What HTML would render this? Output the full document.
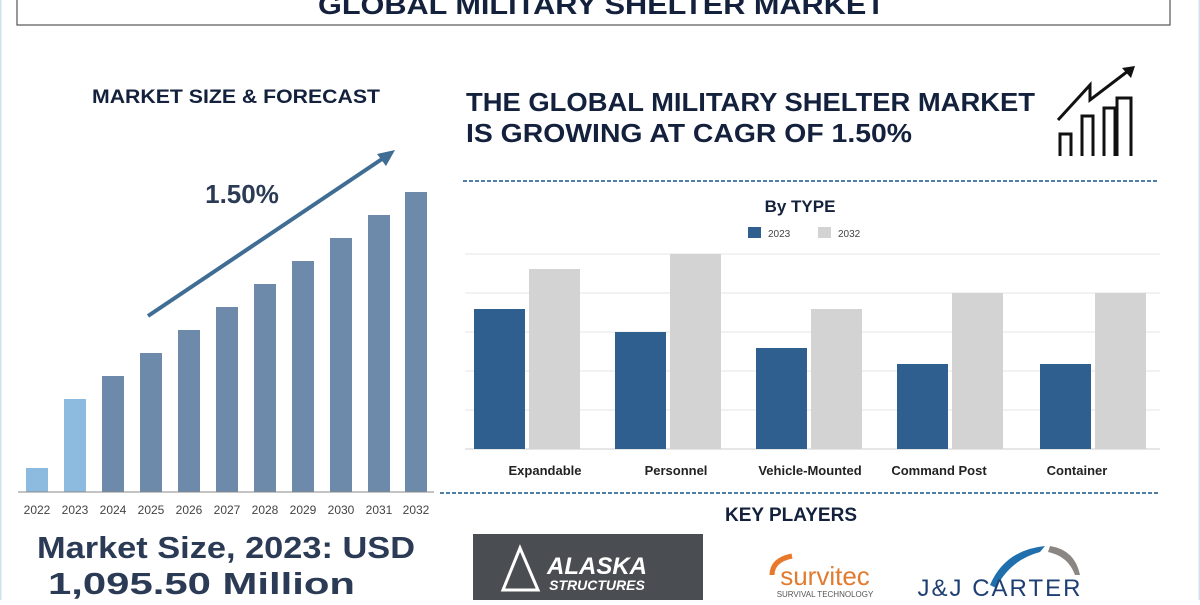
<!DOCTYPE html>
<html><head><meta charset="utf-8"><style>
body{margin:0;width:1200px;height:600px;overflow:hidden;background:#fff;font-family:"Liberation Sans",sans-serif;}
</style></head><body>
<svg width="1200" height="600" xmlns="http://www.w3.org/2000/svg" font-family="Liberation Sans, sans-serif">
<rect x="0.5" y="-5" width="1199" height="610" fill="#fff" stroke="#cfe0ef" stroke-width="2"/>
<rect x="17" y="-5" width="1153" height="30" fill="#fff" stroke="#555" stroke-width="1.2"/>
<text x="318" y="14" font-size="27" font-weight="bold" fill="#14213d" textLength="567" lengthAdjust="spacingAndGlyphs">GLOBAL MILITARY SHELTER MARKET</text>
<text x="92" y="103" font-size="19" font-weight="bold" fill="#14213d" textLength="288" lengthAdjust="spacingAndGlyphs">MARKET SIZE &amp; FORECAST</text>
<text x="242" y="203" text-anchor="middle" font-size="26" font-weight="bold" fill="#2b3a55">1.50%</text>
<line x1="148" y1="316" x2="385" y2="157" stroke="#3f6d93" stroke-width="4"/>
<polygon points="395,150 377,154 386,166" fill="#3f6d93"/>
<g fill="#6d8aaa">
<rect x="26" y="468" width="22" height="24" fill="#8dbbe0"/>
<rect x="64" y="399" width="22" height="93" fill="#8dbbe0"/>
<rect x="102" y="376" width="22" height="116"/>
<rect x="140" y="353" width="22" height="139"/>
<rect x="178" y="330" width="22" height="162"/>
<rect x="216" y="307" width="22" height="185"/>
<rect x="254" y="284" width="22" height="208"/>
<rect x="292" y="261" width="22" height="231"/>
<rect x="330" y="238" width="22" height="254"/>
<rect x="368" y="215" width="22" height="277"/>
<rect x="405" y="192" width="22" height="300"/>
</g>
<line x1="18" y1="492" x2="434" y2="492" stroke="#888" stroke-width="1"/>
<g font-size="12" fill="#444" text-anchor="middle">
<text x="37" y="514">2022</text><text x="75" y="514">2023</text><text x="113" y="514">2024</text><text x="151" y="514">2025</text><text x="189" y="514">2026</text><text x="227" y="514">2027</text><text x="265" y="514">2028</text><text x="303" y="514">2029</text><text x="341" y="514">2030</text><text x="379" y="514">2031</text><text x="416" y="514">2032</text>
</g>
<text x="37" y="558" font-size="31" font-weight="bold" fill="#2b3a55" textLength="378" lengthAdjust="spacingAndGlyphs">Market Size, 2023: USD</text>
<text x="48" y="594" font-size="31" font-weight="bold" fill="#2b3a55" textLength="307" lengthAdjust="spacingAndGlyphs">1,095.50 Million</text>
<text x="466" y="111" font-size="26" font-weight="bold" fill="#14213d" textLength="569" lengthAdjust="spacingAndGlyphs">THE GLOBAL MILITARY SHELTER MARKET</text>
<text x="466" y="142" font-size="26" font-weight="bold" fill="#14213d" textLength="446" lengthAdjust="spacingAndGlyphs">IS GROWING AT CAGR OF 1.50%</text>
<g stroke="#111" stroke-width="3" fill="none">
<path d="M1060 156 V134 H1071 V156"/><path d="M1082 156 V116 H1093 V156"/><path d="M1104 156 V108 H1115 V156"/><path d="M1117 156 V98 H1131 V156"/>
<path d="M1058 120 L1090 85 L1090 100 L1132 68"/>
</g>
<polygon points="1135,66 1122,68 1131,78" fill="#111"/>
<line x1="463" y1="181" x2="1158" y2="181" stroke="#4d7fa8" stroke-width="2" stroke-dasharray="4,2"/>
<text x="800" y="212" text-anchor="middle" font-size="17" font-weight="bold" fill="#14213d">By TYPE</text>
<rect x="748" y="227" width="13" height="11" fill="#2e5f8e"/><text x="768" y="237" font-size="10" fill="#444">2023</text>
<rect x="818" y="227" width="13" height="11" fill="#d3d3d3"/><text x="838" y="237" font-size="10" fill="#444">2032</text>
<g stroke="#e6e6e6" stroke-width="1">
<line x1="465" y1="254" x2="1160" y2="254"/><line x1="465" y1="293" x2="1160" y2="293"/><line x1="465" y1="332" x2="1160" y2="332"/><line x1="465" y1="371" x2="1160" y2="371"/><line x1="465" y1="410" x2="1160" y2="410"/>
</g>
<line x1="465" y1="449" x2="1160" y2="449" stroke="#ccc"/>
<g fill="#2e5f8e">
<rect x="474" y="309" width="51" height="140"/><rect x="615" y="332" width="51" height="117"/><rect x="756" y="348" width="51" height="101"/><rect x="897" y="364" width="51" height="85"/><rect x="1040" y="364" width="51" height="85"/>
</g>
<g fill="#d3d3d3">
<rect x="529" y="269" width="51" height="180"/><rect x="670" y="254" width="51" height="195"/><rect x="811" y="309" width="51" height="140"/><rect x="952" y="293" width="51" height="156"/><rect x="1095" y="293" width="51" height="156"/>
</g>
<g font-size="13" font-weight="bold" fill="#222" text-anchor="middle">
<text x="545" y="475">Expandable</text><text x="676" y="475">Personnel</text><text x="810" y="475">Vehicle-Mounted</text><text x="939" y="475">Command Post</text><text x="1077" y="475">Container</text>
</g>
<line x1="440" y1="493" x2="1160" y2="493" stroke="#4d7fa8" stroke-width="2" stroke-dasharray="4,2"/>
<text x="791" y="521" text-anchor="middle" font-size="19" font-weight="bold" fill="#14213d">KEY PLAYERS</text>
<rect x="473" y="534" width="230" height="66" fill="#4a4d52"/>
<polygon points="520,548 503,590 538,590" fill="none" stroke="#fff" stroke-width="3"/>
<text x="597" y="574" text-anchor="middle" font-size="24" font-weight="bold" font-style="italic" fill="#fff">ALASKA</text>
<text x="597" y="590" text-anchor="middle" font-size="14" font-weight="bold" font-style="italic" fill="#fff">STRUCTURES</text>
<path d="M772 575 Q772 560 792 556" stroke="#e8782a" stroke-width="5" fill="none"/>
<text x="825" y="585" text-anchor="middle" font-size="26" fill="#e07b30">survitec</text>
<text x="825" y="597" text-anchor="middle" font-size="8" fill="#555">SURVIVAL TECHNOLOGY</text>
<path d="M990 585 Q1005 550 1045 546 L1040 552 Q1010 560 996 588 Z" fill="#1f6fae"/>
<path d="M1050 546 Q1075 550 1080 575 L1075 575 Q1068 556 1048 552 Z" fill="#8a8683"/>
<text x="1000" y="596" text-anchor="middle" font-size="24" fill="#1e3f73" letter-spacing="2">J&amp;J CARTER</text>
</svg>
</body></html>
